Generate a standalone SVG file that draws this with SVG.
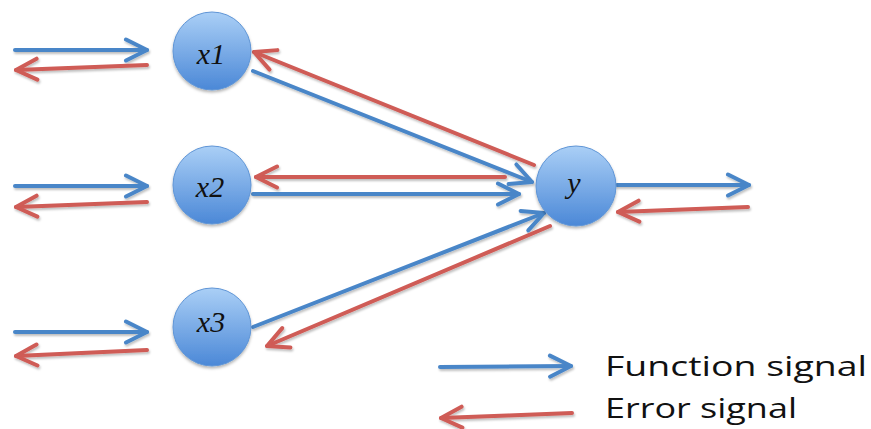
<svg xmlns="http://www.w3.org/2000/svg" width="871" height="429" viewBox="0 0 871 429">
<style>
.b{stroke:#4a86c8;stroke-width:4;fill:none;stroke-linecap:round;marker-end:url(#ab)}
.r{stroke:#cf5b56;stroke-width:4;fill:none;stroke-linecap:round;marker-end:url(#ar)}
.node circle{fill:url(#g);stroke:#5f95d6;stroke-width:1;filter:url(#sh2)}
.node text{font-family:"Liberation Serif",serif;font-style:italic;font-size:30px;text-anchor:middle;fill:#111}
.leg{font-family:"Open Sans","Liberation Sans",sans-serif;font-size:28px;fill:#111}
</style>
<defs>
<linearGradient id="g" x1="0" y1="0" x2="0" y2="1">
<stop offset="0" stop-color="#aacff6"/>
<stop offset="1" stop-color="#4b88d7"/>
</linearGradient>
<filter id="sh" filterUnits="userSpaceOnUse" x="0" y="0" width="871" height="429">
<feDropShadow dx="1" dy="2" stdDeviation="1.2" flood-color="#000" flood-opacity="0.25"/>
</filter>
<filter id="sh2" x="-20%" y="-20%" width="140%" height="140%">
<feDropShadow dx="0" dy="2" stdDeviation="1.5" flood-color="#000" flood-opacity="0.3"/>
</filter>
<marker id="ab" viewBox="0 0 28 26" refX="25" refY="13" markerWidth="28" markerHeight="26" markerUnits="userSpaceOnUse" orient="auto">
<path d="M4,2.5 L25,13 L4,23.5" fill="none" stroke="#4a86c8" stroke-width="4" stroke-linecap="round" stroke-linejoin="round"/>
</marker>
<marker id="ar" viewBox="0 0 28 26" refX="25" refY="13" markerWidth="28" markerHeight="26" markerUnits="userSpaceOnUse" orient="auto">
<path d="M4,2.5 L25,13 L4,23.5" fill="none" stroke="#cf5b56" stroke-width="4" stroke-linecap="round" stroke-linejoin="round"/>
</marker>
</defs>
<g id="connectors" filter="url(#sh)">
<line class="b" x1="15" y1="50" x2="147" y2="50"/>
<line class="r" x1="147" y1="65" x2="16" y2="70"/>
<line class="b" x1="15" y1="186" x2="147" y2="186"/>
<line class="r" x1="147" y1="202" x2="16" y2="207"/>
<line class="b" x1="15" y1="332" x2="147" y2="332"/>
<line class="r" x1="147" y1="350" x2="16" y2="356"/>
<line class="b" x1="253" y1="71" x2="532" y2="182"/>
<line class="r" x1="534" y1="165" x2="254" y2="52"/>
<line class="r" x1="505" y1="177" x2="256" y2="177"/>
<line class="b" x1="253" y1="194" x2="519" y2="194"/>
<line class="b" x1="253" y1="327" x2="544" y2="213"/>
<line class="r" x1="550" y1="226" x2="267" y2="346"/>
<line class="b" x1="617" y1="185" x2="749" y2="185"/>
<line class="r" x1="748" y1="207" x2="618" y2="212"/>
<line class="b" x1="440" y1="367" x2="571" y2="366"/>
<line class="r" x1="572" y1="413" x2="441" y2="418"/>
</g>
<g id="x1" class="node"><circle cx="212" cy="51" r="39"/><text x="211" y="64">x1</text></g>
<g id="x2" class="node"><circle cx="212" cy="185" r="39"/><text x="210" y="197">x2</text></g>
<g id="x3" class="node"><circle cx="212" cy="327" r="39"/><text x="211" y="332">x3</text></g>
<g id="y" class="node"><circle cx="576" cy="186" r="40"/><text x="574" y="193">y</text></g>
<g id="legend">
<text class="leg" x="605" y="376" textLength="262" lengthAdjust="spacingAndGlyphs">Function signal</text>
<text class="leg" x="605" y="418" textLength="192" lengthAdjust="spacingAndGlyphs">Error signal</text>
</g>
</svg>
